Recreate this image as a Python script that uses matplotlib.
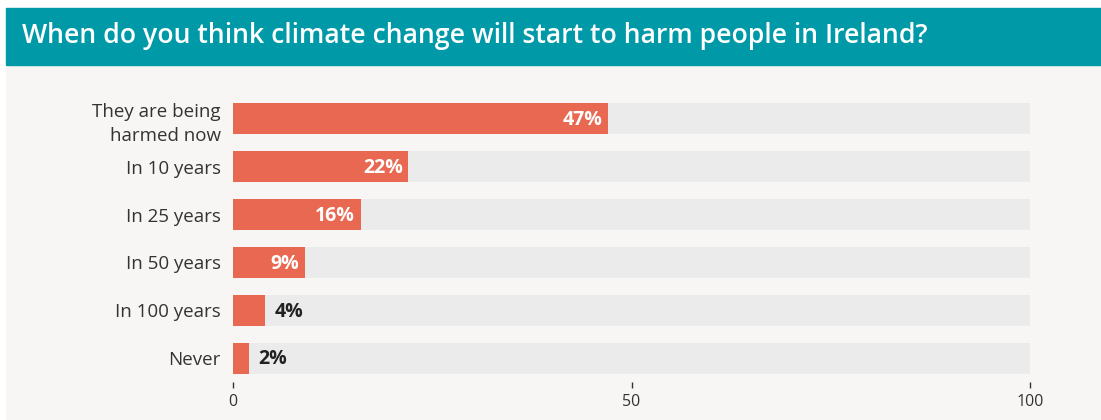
import matplotlib.pyplot as plt
from matplotlib.patches import Rectangle

plt.rcParams['font.family'] = ['Open Sans', 'DejaVu Sans']

categories = ['They are being\nharmed now', 'In 10 years', 'In 25 years',
              'In 50 years', 'In 100 years', 'Never']
values = [47, 22, 16, 9, 4, 2]
ticks = [0, 50, 100]
title = 'When do you think climate change will start to harm people in Ireland?'

W, H = 1101, 420
fig = plt.figure(figsize=(W / 100, H / 100), dpi=100)
fig.patch.set_facecolor('white')

# background panel and title band
fig.add_artist(Rectangle((6 / W, 0), 1 - 6 / W, 1 - 66 / H,
                         transform=fig.transFigure, color='#f7f6f4', zorder=0))
fig.add_artist(Rectangle((6 / W, 1 - 65 / H), 1 - 6 / W, 57 / H,
                         transform=fig.transFigure, color='#0099a7', zorder=0))
fig.text(22 / W, 1 - 36.5 / H, title, color='white', fontsize=19.2,
         fontweight='semibold', va='center', ha='left')

ax = fig.add_axes([233 / W, 1 - 382 / H, (1030 - 233) / W, (382 - 95) / H])
ax.set_facecolor('none')

y = list(range(len(categories)))
ax.barh(y, [100] * len(values), height=0.65, color='#ebebeb', zorder=1)
ax.barh(y, values, height=0.65, color='#e96852', zorder=2)

for yi, v in zip(y, values):
    if v >= 9:
        ax.annotate(f'{v}%', (v, yi), xytext=(-4, -1), textcoords='offset points',
                    ha='right', va='center', color='white', fontsize=14,
                    fontweight='bold', zorder=3)
    else:
        ax.annotate(f'{v}%', (v, yi), xytext=(7, -1), textcoords='offset points',
                    ha='left', va='center', color='#222222', fontsize=14,
                    fontweight='bold', zorder=3)

ax.set_xlim(0, 100)
ax.set_ylim(len(categories) - 0.5, -0.5)
ax.set_yticks(y)
ax.set_yticklabels(categories, fontsize=13.5, color='#333333', linespacing=1.45)
ax.set_xticks(ticks)
ax.set_xticklabels([str(t) for t in ticks], fontsize=11.5, color='#333333')
ax.tick_params(axis='y', length=0, pad=9)
ax.tick_params(axis='x', length=4, width=1, color='#333333', pad=5)
for s in ax.spines.values():
    s.set_visible(False)

fig.savefig('out.png', dpi=100)
